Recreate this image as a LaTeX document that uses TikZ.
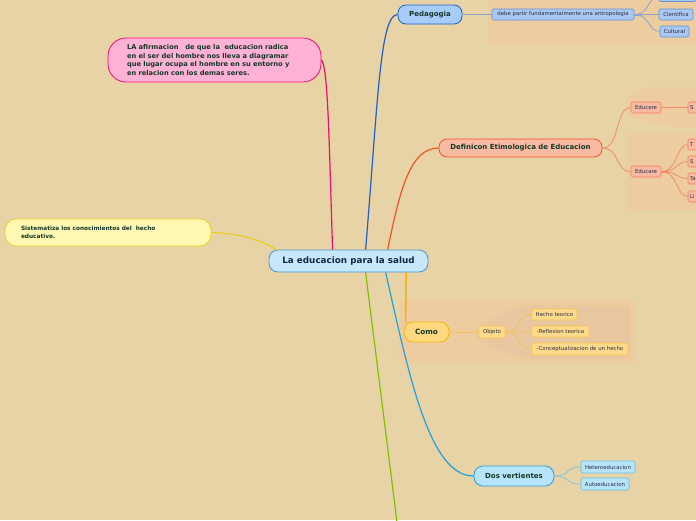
\documentclass[tikz,border=0pt]{standalone}
\usepackage{fontspec}
\setmainfont{DejaVu Sans}
\usetikzlibrary{calc}
\definecolor{bg}{RGB}{232,211,167}
\definecolor{grp}{RGB}{237,205,160}
\definecolor{grpline}{RGB}{246,202,152}
\definecolor{grpin}{RGB}{233,199,160}
\definecolor{maintext}{RGB}{22,56,40}
\definecolor{smalltext}{RGB}{40,45,65}
\definecolor{cfill}{RGB}{198,232,250}
\definecolor{cline}{RGB}{70,150,210}
\definecolor{pfill}{RGB}{255,178,212}
\definecolor{pline}{RGB}{232,16,106}
\definecolor{bfill}{RGB}{168,204,248}
\definecolor{bline}{RGB}{30,96,200}
\definecolor{bsfill}{RGB}{170,200,242}
\definecolor{bsline}{RGB}{98,144,214}
\definecolor{bconn}{RGB}{140,166,206}
\definecolor{sfill}{RGB}{248,186,162}
\definecolor{sline}{RGB}{240,84,36}
\definecolor{ssline}{RGB}{240,130,96}
\definecolor{sconn}{RGB}{242,140,100}
\definecolor{yfill}{RGB}{255,247,178}
\definecolor{yline}{RGB}{232,208,32}
\definecolor{ofill}{RGB}{255,216,128}
\definecolor{oline}{RGB}{246,180,0}
\definecolor{osfill}{RGB}{255,218,140}
\definecolor{osline}{RGB}{245,196,80}
\definecolor{oconn}{RGB}{240,196,96}
\definecolor{lbfill}{RGB}{184,228,250}
\definecolor{lbline}{RGB}{32,160,224}
\definecolor{lbsline}{RGB}{100,190,230}
\definecolor{lbconn}{RGB}{130,196,220}
\definecolor{gline}{RGB}{128,192,0}
\tikzset{
  mainnode/.style={draw, line width=0.8pt, inner sep=0pt, align=center, text=maintext,
    font=\bfseries\fontsize{7}{8}\selectfont},
  smallnode/.style={draw, line width=0.6pt, inner sep=0pt, rounded corners=1.5pt, text=smalltext,
    font=\fontsize{5.4}{6}\selectfont, minimum height=11pt},
  conn/.style={line width=1.2pt},
  sconn/.style={line width=0.8pt},
  group/.style={fill=grp, draw=grpline, line width=0.8pt, rounded corners=3pt}
}
\begin{document}
\begin{tikzpicture}[x=1pt,y=-1pt]
\fill[bg] (0,0) rectangle (696,520);
\useasboundingbox (0,0) rectangle (696,520);
\clip (0,0) rectangle (696,520);

% group backgrounds
\draw[group] (489,-10) rectangle (702,43);
\draw[group] (627,100) -- (647,88) -- (702,88) -- (702,127) -- (673,127) -- (627,115) -- cycle;
\draw[group] (627,134) rectangle (702,209);
\draw[group] (400,301) rectangle (634,362);
\draw[fill=grpin, draw=grpline, line width=0.6pt, rounded corners=2pt] (475,328) -- (517,305) -- (631,305) -- (631,359) -- (517,359) -- (475,339) -- cycle;

% main nodes
\node[mainnode, fill=cfill, draw=cline, rounded corners=9pt, minimum width=159pt, minimum height=22pt,
  font=\bfseries\fontsize{8.8}{9}\selectfont, text={rgb,255:red,20;green,40;blue,70}] (c) at (348.5,261) {La educacion para la salud};
\node[mainnode, fill=bfill, draw=bline, rounded corners=8pt, minimum width=64pt, minimum height=19pt] (ped) at (430,14.5) {Pedagogia};
\node[mainnode, fill=pfill, draw=pline, rounded corners=18pt, minimum width=213pt, minimum height=44pt,
  align=left, text width=175pt, font=\bfseries\fontsize{6.7}{8.4}\selectfont] (pk) at (214.5,60)
  {LA afirmacion~~ de que la~ educacion radica\\en el ser del hombre nos lleva a diagramar\\que lugar ocupa el hombre en su entorno y\\en relacion con los demas seres.};
\node[mainnode, fill=sfill, draw=sline, rounded corners=8pt, minimum width=163pt, minimum height=18pt] (def) at (520.5,148) {Definicon Etimologica de Educacion};
\node[mainnode, fill=yfill, draw=yline, rounded corners=11pt, minimum width=206pt, minimum height=27pt,
  align=left, text width=174pt, font=\bfseries\fontsize{5.8}{8.6}\selectfont] (sis) at (108,232.5)
  {Sistematiza los conocimientos del~ hecho\\educativo.};
\node[mainnode, fill=ofill, draw=oline, rounded corners=9pt, minimum width=45pt, minimum height=20pt,
  font=\bfseries\fontsize{7.3}{8}\selectfont] (como) at (426.5,332) {Como};
\node[mainnode, fill=lbfill, draw=lbline, rounded corners=9pt, minimum width=80pt, minimum height=20pt] (dos) at (514,476) {Dos vertientes};
\coordinate (gend) at (397,522);

% small nodes: Pedagogia branch
\node[smallnode, fill=bsfill, draw=bsline, minimum width=142pt] (debe) at (563,14.5) {debe partir fundamentalmente una antropologia};
\node[smallnode, fill=bsfill, draw=bsline, minimum width=37pt] (top) at (677.5,-4) {};
\node[smallnode, fill=bsfill, draw=bsline, minimum width=34pt] (cie) at (676,14.5) {Cientifica};
\node[smallnode, fill=bsfill, draw=bsline, minimum width=29pt] (cul) at (674.5,31.5) {Cultural};

% Definicon branch
\node[smallnode, fill=sfill, draw=ssline, minimum width=30pt] (edce) at (646,107.5) {Educere};
\node[smallnode, fill=sfill, draw=ssline, minimum width=30pt] (edca) at (646,171.5) {Educare};
\node[smallnode, fill=sfill, draw=ssline, minimum width=30pt, align=left, text width=26pt] (s1) at (703,107.5) {S};
\node[smallnode, fill=sfill, draw=ssline, minimum width=30pt, align=left, text width=26pt] (t1) at (703,144.5) {T};
\node[smallnode, fill=sfill, draw=ssline, minimum width=30pt, align=left, text width=26pt] (t2) at (703,161.5) {S};
\node[smallnode, fill=sfill, draw=ssline, minimum width=30pt, align=left, text width=26pt] (t3) at (703,178.5) {Ta};
\node[smallnode, fill=sfill, draw=ssline, minimum width=30pt, align=left, text width=26pt] (t4) at (703,196.5) {Li};

% Como branch
\node[smallnode, fill=osfill, draw=osline, minimum width=26pt, minimum height=12pt] (obj) at (492,332) {Objeto};
\node[smallnode, fill=osfill, draw=osline, minimum width=45pt] (h1) at (554.5,314.5) {Hecho teorico};
\node[smallnode, fill=osfill, draw=osline, minimum width=57pt] (h2) at (560.5,331.5) {-Reflexion teorica};
\node[smallnode, fill=osfill, draw=osline, minimum width=96pt, minimum height=12pt] (h3) at (580,349) {-Conceptualizacion de un hecho};

% Dos vertientes branch
\node[smallnode, fill=lbfill, draw=lbsline, minimum width=54pt, minimum height=12pt] (het) at (608,467) {Heteroeducacion};
\node[smallnode, fill=lbfill, draw=lbsline, minimum width=48pt, minimum height=12pt] (aut) at (605,484) {Autoeducacion};

% main connectors
\draw[conn, draw=pline] ($(c.north west)+(64,0)$) .. controls (329,140) and (328,66) .. (pk.east);
\draw[conn, draw=bline] ($(c.north west)+(97,0)$) .. controls (378,100) and (380,14.5) .. (ped.west);
\draw[conn, draw=sline] ($(c.north west)+(119,0)$) .. controls (400,190) and (410,148) .. (def.west);
\draw[conn, draw=yline] (sis.east) .. controls (245,234) and (262,241) .. ($(c.north west)+(9,0.5)$);
\draw[conn, draw=oline, line width=1.5pt] ($(c.south west)+(137.5,0)$) -- ($(como.north west)+(2,1)$);
\draw[conn, draw=lbline] ($(c.south west)+(117,0)$) .. controls (410,380) and (430,476) .. (dos.west);
\draw[conn, draw=gline] ($(c.south west)+(97,0)$) -- (gend);

% child connectors
\draw[sconn, draw=bconn, line width=1.4pt] (ped.east) -- (debe.west);
\draw[sconn, draw=bconn] (debe.east) -- (cie.west);
\draw[sconn, draw=bconn] (debe.east) .. controls (650,14.5) and (648,31.5) .. (cul.west);
\draw[sconn, draw=bconn] (debe.east) .. controls (650,14.5) and (648,-4) .. (top.west);
\draw[line width=2pt, draw=bconn] (debe.east) -- ++(8,0);

\draw[sconn, draw=sconn] (def.east) .. controls (620,148) and (615,107.5) .. (edce.west);
\draw[sconn, draw=sconn] (def.east) .. controls (620,148) and (615,171.5) .. (edca.west);
\draw[sconn, draw=sconn] (edce.east) -- (s1.west);
\draw[sconn, draw=sconn] (edca.east) .. controls (678,171.5) and (676,144.5) .. (t1.west);
\draw[sconn, draw=sconn] (edca.east) .. controls (678,171.5) and (676,161.5) .. (t2.west);
\draw[sconn, draw=sconn] (edca.east) .. controls (678,171.5) and (676,178.5) .. (t3.west);
\draw[sconn, draw=sconn] (edca.east) .. controls (678,171.5) and (676,196.5) .. (t4.west);
\draw[line width=2pt, draw=sconn] (edca.east) -- ++(7,0);

\draw[sconn, draw=oconn] (como.east) -- (obj.west);
\draw[sconn, draw=oconn] (obj.east) .. controls (522,332) and (515,314.5) .. (h1.west);
\draw[sconn, draw=oconn] (obj.east) -- (h2.west);
\draw[sconn, draw=oconn] (obj.east) .. controls (522,332) and (515,349) .. (h3.west);

\draw[sconn, draw=lbconn] (dos.east) .. controls (570,476) and (565,467) .. (het.west);
\draw[sconn, draw=lbconn] (dos.east) .. controls (570,476) and (565,484) .. (aut.west);
\end{tikzpicture}
\end{document}
